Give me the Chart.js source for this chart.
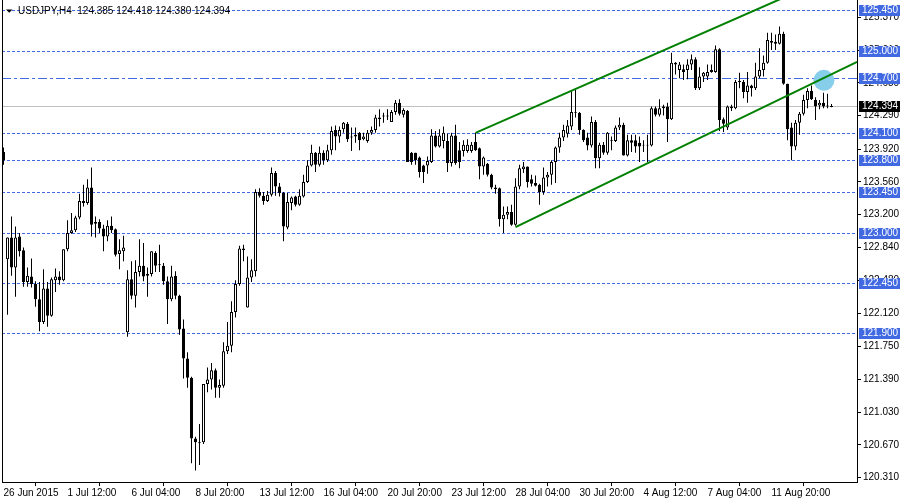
<!DOCTYPE html>
<html>
<head>
<meta charset="utf-8">
<title>USDJPY,H4</title>
<script src="https://cdn.jsdelivr.net/npm/chart.js@4.4.1/dist/chart.umd.min.js"></script>
<style>
  html, body { margin: 0; padding: 0; background: #fff; }
</style>
</head>
<body>
<canvas id="chart" width="900" height="500"></canvas>
<script>
// USDJPY H4 bars, 26 Jun - 14 Aug 2015
const symbolTitle = 'USDJPY,H4  124.385 124.418 124.380 124.394';

const opens = [
  123.89, 122.71, 122.95, 122.62, 122.96, 122.81, 122.46, 122.52, 122.44, 122.27,
  122.02, 122.39, 122.09, 122.48, 122.52, 122.48, 122.82, 123.00, 123.03, 123.17,
  123.35, 123.33, 123.50, 123.10, 123.12, 123.05, 122.96, 123.08, 123.04, 122.77,
  122.80, 121.91, 122.49, 122.31, 122.57, 122.64, 122.53, 122.55, 122.78, 122.66,
  122.64, 122.47, 122.27, 122.53, 122.31, 121.95, 121.62, 121.41, 120.74, 120.69,
  120.70, 121.34, 121.39, 121.49, 121.30, 121.32, 121.70, 121.76, 122.13, 122.44,
  122.83, 122.18, 122.51, 122.58, 123.45, 123.41, 123.35, 123.42, 123.66, 123.51,
  123.44, 123.06, 123.33, 123.40, 123.31, 123.40, 123.56, 123.74, 123.88, 123.75,
  123.88, 123.80, 123.91, 124.13, 124.06, 124.14, 124.20, 124.06, 124.06, 124.10,
  124.03, 124.01, 124.10, 124.13, 124.27, 124.28, 124.29, 124.22, 124.33, 124.43,
  124.30, 124.34, 123.88, 123.88, 123.83, 123.74, 123.74, 123.78, 124.07, 123.95,
  124.01, 124.01, 123.77, 124.07, 123.91, 123.90, 123.90, 123.90, 124.00, 123.93,
  123.73, 123.76, 123.64, 123.50, 123.49, 123.15, 123.20, 123.23, 123.09, 123.51,
  123.70, 123.73, 123.59, 123.55, 123.53, 123.45, 123.61, 123.64, 123.78, 123.94,
  124.05, 124.09, 124.17, 124.33, 124.32, 124.13, 124.05, 123.96, 124.22, 123.82,
  123.97, 123.88, 124.01, 124.01, 124.16, 124.19, 123.85, 124.02, 124.02, 123.99,
  123.96, 123.96, 123.96, 124.37, 124.30, 124.39, 124.39, 124.25, 124.87, 124.79,
  124.80, 124.79, 124.85, 124.91, 124.59, 124.72, 124.72, 124.79, 124.77, 125.02,
  124.25, 124.16, 124.37, 124.37, 124.66, 124.66, 124.55, 124.62, 124.59, 124.72,
  124.79, 124.87, 125.11, 125.10, 125.08, 125.19, 124.64, 124.16, 123.95, 124.21,
  124.31, 124.46, 124.56, 124.46, 124.40, 124.43, 124.39, 124.385
];
const highs = [
  123.94, 122.95, 123.18, 123.07, 123.00, 122.84, 122.62, 122.72, 122.47, 122.46,
  122.60, 122.46, 122.51, 122.61, 122.58, 122.82, 123.14, 123.22, 123.19, 123.43,
  123.53, 123.59, 123.72, 123.18, 123.15, 123.09, 123.14, 123.18, 123.05, 122.93,
  122.97, 122.59, 122.69, 122.70, 122.93, 122.89, 122.62, 122.80, 122.80, 122.87,
  122.67, 122.52, 122.64, 122.58, 122.32, 122.05, 121.69, 121.42, 120.76, 120.90,
  121.34, 121.52, 121.57, 121.51, 121.39, 121.80, 122.02, 122.25, 122.48, 122.86,
  122.87, 122.74, 122.71, 123.48, 123.49, 123.45, 123.46, 123.72, 123.68, 123.55,
  123.45, 123.44, 123.40, 123.41, 123.48, 123.64, 123.80, 123.97, 123.89, 123.95,
  123.91, 123.97, 124.17, 124.18, 124.17, 124.22, 124.22, 124.16, 124.16, 124.11,
  124.10, 124.13, 124.17, 124.30, 124.36, 124.32, 124.36, 124.35, 124.46, 124.47,
  124.37, 124.35, 123.89, 123.88, 123.84, 123.75, 123.84, 124.14, 124.12, 124.14,
  124.17, 124.09, 124.10, 124.19, 124.00, 124.02, 124.03, 124.00, 124.10, 123.94,
  123.84, 123.77, 123.65, 123.53, 123.50, 123.29, 123.29, 123.31, 123.60, 123.75,
  123.78, 123.73, 123.64, 123.63, 123.54, 123.72, 123.67, 123.80, 123.95, 124.10,
  124.19, 124.24, 124.57, 124.57, 124.33, 124.14, 124.10, 124.28, 124.24, 123.99,
  124.00, 124.11, 124.06, 124.18, 124.27, 124.21, 124.08, 124.08, 124.08, 124.06,
  124.02, 124.08, 124.39, 124.39, 124.47, 124.41, 124.43, 124.98, 124.88, 124.88,
  124.85, 124.91, 124.96, 124.93, 124.82, 124.77, 124.85, 124.85, 125.06, 125.03,
  124.27, 124.40, 124.41, 124.68, 124.76, 124.68, 124.77, 124.63, 124.87, 125.03,
  124.95, 125.20, 125.20, 125.18, 125.27, 125.21, 124.64, 124.21, 124.24, 124.33,
  124.52, 124.59, 124.62, 124.49, 124.46, 124.54, 124.53, 124.418
];
const lows = [
  123.75, 122.10, 122.53, 122.30, 122.74, 122.41, 122.41, 122.40, 122.19, 121.92,
  122.00, 121.97, 122.08, 122.35, 122.43, 122.47, 122.80, 122.99, 123.01, 123.15,
  123.29, 123.31, 122.96, 122.95, 123.00, 122.80, 122.91, 123.00, 122.74, 122.60,
  122.69, 121.86, 122.27, 122.18, 122.52, 122.47, 122.30, 122.52, 122.57, 122.57,
  122.43, 122.00, 122.25, 122.27, 121.88, 121.40, 121.30, 120.47, 120.39, 120.45,
  120.68, 121.25, 121.28, 121.19, 121.19, 121.30, 121.67, 121.69, 122.07, 122.42,
  122.69, 122.18, 122.46, 122.52, 123.39, 123.31, 123.34, 123.40, 123.41, 123.40,
  122.91, 123.04, 123.25, 123.29, 123.30, 123.39, 123.55, 123.73, 123.67, 123.73,
  123.75, 123.78, 123.86, 123.91, 123.99, 124.10, 124.00, 123.90, 123.99, 123.91,
  124.02, 123.99, 124.08, 124.10, 124.17, 124.21, 124.24, 124.22, 124.30, 124.29,
  124.27, 123.78, 123.75, 123.75, 123.61, 123.55, 123.65, 123.77, 123.94, 123.94,
  123.93, 123.67, 123.73, 123.75, 123.71, 123.84, 123.88, 123.88, 123.90, 123.59,
  123.64, 123.62, 123.48, 123.43, 123.07, 123.00, 123.15, 123.08, 123.08, 123.48,
  123.66, 123.50, 123.51, 123.51, 123.31, 123.42, 123.51, 123.53, 123.55, 123.88,
  124.01, 124.05, 124.13, 124.27, 124.08, 124.00, 123.91, 123.94, 123.71, 123.71,
  123.86, 123.86, 123.91, 124.00, 124.13, 123.85, 123.84, 123.89, 123.88, 123.78,
  123.89, 123.78, 123.95, 124.28, 124.28, 124.29, 124.00, 124.24, 124.74, 124.70,
  124.68, 124.69, 124.79, 124.57, 124.57, 124.66, 124.68, 124.76, 124.76, 124.12,
  124.11, 124.13, 124.34, 124.36, 124.59, 124.48, 124.43, 124.50, 124.57, 124.70,
  124.72, 124.86, 125.01, 125.01, 125.07, 124.63, 124.02, 123.80, 123.91, 124.08,
  124.29, 124.37, 124.46, 124.24, 124.36, 124.37, 124.37, 124.380
];
const closes = [
  123.80, 122.95, 122.62, 122.95, 122.80, 122.46, 122.53, 122.44, 122.27, 122.02,
  122.39, 122.09, 122.49, 122.52, 122.48, 122.82, 123.00, 123.03, 123.17, 123.35,
  123.33, 123.50, 123.09, 123.12, 123.05, 122.96, 123.08, 123.03, 122.76, 122.81,
  122.84, 122.49, 122.31, 122.57, 122.64, 122.52, 122.55, 122.80, 122.64, 122.65,
  122.47, 122.27, 122.52, 122.31, 121.94, 121.62, 121.41, 120.74, 120.70, 120.70,
  121.34, 121.39, 121.49, 121.30, 121.33, 121.70, 121.76, 122.13, 122.44, 122.83,
  122.81, 122.51, 122.59, 123.45, 123.41, 123.35, 123.42, 123.66, 123.51, 123.44,
  123.07, 123.34, 123.39, 123.31, 123.41, 123.56, 123.74, 123.88, 123.75, 123.88,
  123.80, 123.91, 124.12, 124.06, 124.13, 124.21, 124.03, 124.05, 124.08, 124.02,
  124.06, 124.10, 124.13, 124.27, 124.25, 124.29, 124.28, 124.33, 124.43, 124.31,
  124.35, 123.78, 123.78, 123.80, 123.67, 123.67, 123.79, 124.07, 123.95, 124.07,
  124.10, 123.77, 124.07, 123.77, 123.78, 123.97, 123.97, 123.97, 123.91, 123.73,
  123.83, 123.64, 123.50, 123.48, 123.15, 123.20, 123.23, 123.09, 123.51, 123.71,
  123.73, 123.56, 123.54, 123.52, 123.45, 123.61, 123.64, 123.78, 123.94, 124.05,
  124.13, 124.18, 124.33, 124.32, 124.13, 124.02, 123.96, 124.22, 123.82, 123.97,
  123.88, 124.10, 124.02, 124.16, 124.19, 123.85, 124.02, 123.99, 123.95, 123.95,
  123.97, 123.97, 124.37, 124.30, 124.37, 124.37, 124.25, 124.87, 124.85, 124.85,
  124.77, 124.85, 124.91, 124.59, 124.72, 124.76, 124.77, 124.77, 125.02, 124.24,
  124.20, 124.39, 124.39, 124.66, 124.67, 124.55, 124.62, 124.59, 124.72, 124.79,
  124.87, 125.12, 125.09, 125.08, 125.19, 124.64, 124.14, 123.95, 124.21, 124.31,
  124.46, 124.56, 124.47, 124.39, 124.43, 124.39, 124.40, 124.394
];

// time axis: one label every 16 bars
const timeLabels = ['26 Jun 2015', '1 Jul 12:00', '6 Jul 04:00', '8 Jul 20:00', '13 Jul 12:00',
  '16 Jul 04:00', '20 Jul 20:00', '23 Jul 12:00', '28 Jul 04:00', '30 Jul 20:00',
  '4 Aug 12:00', '7 Aug 04:00', '11 Aug 20:00'];
const priceTicks = [125.37, 125.01, 124.65, 124.29, 123.92, 123.56, 123.20, 122.84,
  122.48, 122.12, 121.75, 121.39, 121.03, 120.67, 120.31];

// horizontal levels and objects
const dashedLevels = [125.45, 125.00, 124.10, 123.80, 123.45, 123.00, 122.45, 121.90];
const dashDotLevel = 124.70;
const bidPrice = 124.394;
const upperTrend = [{x: 118, y: 124.10}, {x: 213.4, y: 125.94}];
const lowerTrend = [{x: 128, y: 123.065}, {x: 213.4, y: 124.88}];
const ellipsePoint = [{x: 205.1, y: 124.677}];

const levelBlue = '#4169E1';

Chart.defaults.font.family = '"Liberation Sans", Arial, sans-serif';
Chart.defaults.font.size = 10;
Chart.defaults.color = '#000';

const mtDecor = {
    id: 'mtDecor',
    beforeDatasetsDraw(chart) {
        const {ctx, chartArea: a, scales: {y}} = chart;
        ctx.save();
        ctx.lineWidth = 1;

        // bid line
        let py = Math.round(y.getPixelForValue(bidPrice)) + 0.5;
        ctx.strokeStyle = '#c0c0c0';
        ctx.beginPath(); ctx.moveTo(a.left, py); ctx.lineTo(a.right, py); ctx.stroke();

        ctx.strokeStyle = levelBlue;
        ctx.setLineDash([3, 2]);
        dashedLevels.forEach(v => {
            const p = Math.round(y.getPixelForValue(v)) + 0.5;
            ctx.beginPath(); ctx.moveTo(a.left, p); ctx.lineTo(a.right, p); ctx.stroke();
        });

        ctx.setLineDash([9, 3, 3, 3]);
        py = Math.round(y.getPixelForValue(dashDotLevel)) + 0.5;
        ctx.beginPath(); ctx.moveTo(a.left, py); ctx.lineTo(a.right, py); ctx.stroke();
        ctx.restore();
    },
    afterDraw(chart) {
        const {ctx, chartArea: a, scales: {y}} = chart;
        ctx.save();

        // left frame
        ctx.fillStyle = '#000';
        ctx.fillRect(a.left, 0, 1, a.bottom);

        // title
        ctx.beginPath();
        ctx.moveTo(6, 9.5); ctx.lineTo(12.5, 9.5); ctx.lineTo(9.25, 12.8);
        ctx.closePath(); ctx.fill();
        ctx.font = '10px "Liberation Sans", Arial, sans-serif';
        ctx.textBaseline = 'middle';
        ctx.fillText(symbolTitle, 18, 11);

        // price labels on the axis
        const box = (v, fill) => {
            const p = Math.round(y.getPixelForValue(v));
            ctx.fillStyle = fill;
            ctx.fillRect(a.right + 2, p - 5, 41, 11);
            ctx.fillStyle = '#fff';
            ctx.fillText(v.toFixed(3), a.right + 5, p + 0.5);
        };
        dashedLevels.forEach(v => box(v, levelBlue));
        box(dashDotLevel, levelBlue);
        box(bidPrice, '#000');
        ctx.restore();
    }
};

const bodyData = opens.map((o, i) => ({x: i, y: [o, closes[i]]}));
const wickData = lows.map((l, i) => ({x: i, y: [l, highs[i]]}));
const bodyColors = opens.map((o, i) => closes[i] >= o ? '#ffffff' : '#000000');

new Chart(document.getElementById('chart'), {
    type: 'bar',
    data: {
        datasets: [
            {
                type: 'line', data: upperTrend, borderColor: '#008000', borderWidth: 2,
                pointRadius: 0, order: 0
            },
            {
                type: 'line', data: lowerTrend, borderColor: '#008000', borderWidth: 2,
                pointRadius: 0, order: 0
            },
            {
                type: 'scatter', data: ellipsePoint, pointRadius: 10.5,
                pointBackgroundColor: '#87CEEB', pointBorderWidth: 0, order: 1
            },
            {
                data: bodyData, backgroundColor: bodyColors, borderColor: '#000', borderWidth: 1,
                borderSkipped: false, barThickness: 3, grouped: false, inflateAmount: 0, order: 2
            },
            {
                data: wickData, backgroundColor: '#000', borderWidth: 0,
                barThickness: 1, grouped: false, inflateAmount: 0, order: 3
            }
        ]
    },
    options: {
        responsive: false,
        animation: false,
        layout: { autoPadding: false, padding: { left: 2, top: 0, right: 0, bottom: 0 } },
        plugins: { legend: { display: false }, tooltip: { enabled: false } },
        scales: {
            x: {
                type: 'linear', min: -0.375, max: 213.375, bounds: 'data', offset: false,
                afterBuildTicks: s => { s.ticks = timeLabels.map((t, k) => ({value: k * 16})); },
                afterFit: s => { s.height = 18; s.paddingLeft = 0; s.paddingRight = 0; },
                ticks: {
                    align: 'start', padding: 1, maxRotation: 0, autoSkip: false,
                    callback: (v, k) => timeLabels[k]
                },
                grid: { drawOnChartArea: false, drawTicks: true, tickLength: 4, color: '#000' },
                border: { color: '#000' }
            },
            y: {
                position: 'right', min: 120.263, max: 125.56, bounds: 'data',
                afterBuildTicks: s => { s.ticks = priceTicks.map(v => ({value: v})); },
                afterFit: s => { s.width = 43; s.paddingTop = 0; s.paddingBottom = 0; },
                ticks: { padding: 2, autoSkip: false, callback: v => v.toFixed(3) },
                grid: { drawOnChartArea: false, drawTicks: true, tickLength: 4, color: '#000' },
                border: { color: '#000' }
            }
        }
    },
    plugins: [mtDecor]
});
</script>
</body>
</html>
